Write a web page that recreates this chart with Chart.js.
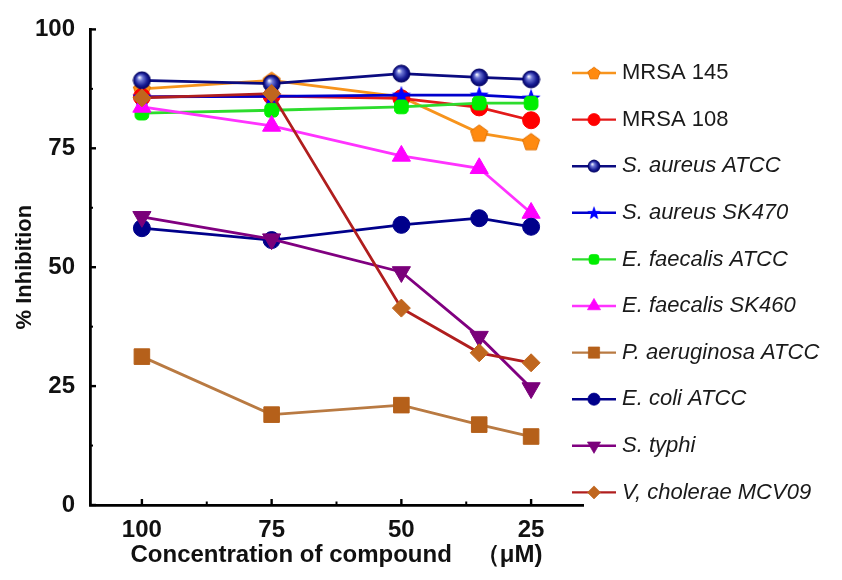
<!DOCTYPE html>
<html>
<head>
<meta charset="utf-8">
<script src="https://cdn.jsdelivr.net/npm/chart.js@4.4.1/dist/chart.umd.min.js"></script>
<style>
  html, body { margin: 0; padding: 0; background: #ffffff; }
  #wrap { width: 842px; height: 580px; position: relative; }
</style>
</head>
<body>
<div id="wrap"><canvas id="chart"></canvas></div>
<script>
// Concentrations tested (µM) and the axis ticks
const concentrations = [100, 75, 50, 35, 25];
const xTickValues = [100, 75, 50, 25];
const xMinorTicks = [87.5, 62.5, 37.5];
const yTickValues = [0, 25, 50, 75, 100];
const yMinorTicks = [12.5, 37.5, 62.5, 87.5];

// Strain names, in legend order
const strains = [
  'MRSA 145', 'MRSA 108', 'S. aureus ATCC', 'S. aureus SK470', 'E. faecalis ATCC',
  'E. faecalis SK460', 'P. aeruginosa ATCC', 'E. coli ATCC', 'S. typhi', 'V, cholerae MCV09'
];
const italicNames = [false, false, true, true, true, true, true, true, true, true];

// % inhibition per strain at each concentration
const mrsa145      = [87.5, 89.3, 85.8, 78.2, 76.4];
const mrsa108      = [85.8, 86.0, 85.5, 83.6, 80.9];
const saureusAtcc  = [89.3, 88.6, 90.7, 89.9, 89.5];
const saureusSk470 = [85.8, 85.9, 86.2, 86.2, 85.6];
const efaecalisAtcc  = [82.4, 83.0, 83.7, 84.5, 84.5];
const efaecalisSk460 = [83.7, 79.7, 73.4, 70.8, 61.4];
const paeruginosa  = [31.2, 19.0, 21.0, 16.9, 14.4];
const ecoliAtcc    = [58.2, 55.7, 58.9, 60.3, 58.5];
const styphi       = [60.6, 55.9, 49.0, 35.4, 24.6];
const vcholerae    = [85.6, 86.5, 41.4, 32.0, 29.9];

const seriesValues = [mrsa145, mrsa108, saureusAtcc, saureusSk470, efaecalisAtcc,
  efaecalisSk460, paeruginosa, ecoliAtcc, styphi, vcholerae];

// ---- custom marker sprites ----
function makeCanvas(size) {
  const c = document.createElement('canvas');
  c.width = size; c.height = size;
  return c;
}
function pentagonSprite(r, fill) {
  const s = Math.ceil(r * 2 + 2), c = makeCanvas(s), g = c.getContext('2d');
  const cx = s / 2, cy = s / 2 + 0.8;
  g.beginPath();
  for (let k = 0; k < 5; k++) {
    const a = -Math.PI / 2 + k * 2 * Math.PI / 5;
    const px = cx + r * Math.cos(a), py = cy + r * Math.sin(a);
    k ? g.lineTo(px, py) : g.moveTo(px, py);
  }
  g.closePath();
  g.fillStyle = fill; g.fill();
  g.lineWidth = 1; g.strokeStyle = '#e07000'; g.stroke();
  return c;
}
function starSprite(r, fill) {
  const s = Math.ceil(r * 2 + 2), c = makeCanvas(s), g = c.getContext('2d');
  const cx = s / 2, cy = s / 2 + 0.8, ri = r * 0.42;
  g.beginPath();
  for (let k = 0; k < 10; k++) {
    const a = -Math.PI / 2 + k * Math.PI / 5, rr = k % 2 ? ri : r;
    const px = cx + rr * Math.cos(a), py = cy + rr * Math.sin(a);
    k ? g.lineTo(px, py) : g.moveTo(px, py);
  }
  g.closePath();
  g.fillStyle = fill; g.fill();
  return c;
}
function ballSprite(r) {
  const s = Math.ceil(r * 2 + 2), c = makeCanvas(s), g = c.getContext('2d');
  const cx = s / 2, cy = s / 2;
  const grad = g.createRadialGradient(cx - r * 0.3, cy - r * 0.35, r * 0.05, cx, cy, r);
  grad.addColorStop(0, '#f2f4ff');
  grad.addColorStop(0.28, '#6f78d6');
  grad.addColorStop(0.7, '#1a1f96');
  grad.addColorStop(1, '#000066');
  g.beginPath(); g.arc(cx, cy, r, 0, Math.PI * 2);
  g.fillStyle = grad; g.fill();
  g.lineWidth = 1; g.strokeStyle = '#000060'; g.stroke();
  return c;
}

const markerStyles = [
  { lineColor: '#f7941d', pointColor: '#ff8000', style: pentagonSprite(9, '#ff8a10'), radius: 9, rotation: 0 },
  { lineColor: '#e31a1a', pointColor: '#ff0000', style: 'circle', radius: 8.5, rotation: 0 },
  { lineColor: '#0b0b80', pointColor: '#000080', style: ballSprite(8.5), radius: 8.5, rotation: 0 },
  { lineColor: '#0000cc', pointColor: '#0000ff', style: starSprite(10, '#0000ff'), radius: 10, rotation: 0 },
  { lineColor: '#2ddc2d', pointColor: '#00ee00', style: 'rectRounded', radius: 8, rotation: 0 },
  { lineColor: '#ff33ff', pointColor: '#ff00ff', style: 'triangle', radius: 10.5, rotation: 0 },
  { lineColor: '#b97a42', pointColor: '#b5601a', style: 'rect', radius: 11, rotation: 0 },
  { lineColor: '#00008b', pointColor: '#00008b', style: 'circle', radius: 8.5, rotation: 0 },
  { lineColor: '#800080', pointColor: '#7a007a', style: 'triangle', radius: 10.5, rotation: 180 },
  { lineColor: '#b01e1e', pointColor: '#c0661e', style: 'rectRot', radius: 9, rotation: 0 }
];

const datasets = strains.map((name, i) => ({
  label: name,
  data: concentrations.map((c, j) => ({ x: c, y: seriesValues[i][j] })),
  borderColor: markerStyles[i].lineColor,
  borderWidth: 2.8,
  backgroundColor: markerStyles[i].pointColor,
  pointBackgroundColor: markerStyles[i].pointColor,
  pointBorderColor: markerStyles[i].pointColor,
  pointBorderWidth: 1,
  pointStyle: markerStyles[i].style,
  pointRadius: markerStyles[i].radius,
  pointRotation: markerStyles[i].rotation,
  tension: 0,
  order: -i
}));

// inward major/minor tick marks along both axes
const tickMarks = {
  id: 'tickMarks',
  afterDraw(chart) {
    const { ctx, scales: { x, y } } = chart;
    const yBase = y.getPixelForValue(0);
    const xLeft = chart.chartArea.left;
    ctx.save();
    ctx.strokeStyle = '#000';
    ctx.lineWidth = 2.4;
    yTickValues.forEach(v => {
      const py = y.getPixelForValue(v);
      ctx.beginPath(); ctx.moveTo(xLeft, py); ctx.lineTo(xLeft + 6, py); ctx.stroke();
    });
    xTickValues.forEach(v => {
      const px = x.getPixelForValue(v);
      ctx.beginPath(); ctx.moveTo(px, yBase); ctx.lineTo(px, yBase - 6); ctx.stroke();
    });
    ctx.lineWidth = 2;
    yMinorTicks.forEach(v => {
      const py = y.getPixelForValue(v);
      ctx.beginPath(); ctx.moveTo(xLeft, py); ctx.lineTo(xLeft + 3, py); ctx.stroke();
    });
    xMinorTicks.forEach(v => {
      const px = x.getPixelForValue(v);
      ctx.beginPath(); ctx.moveTo(px, yBase); ctx.lineTo(px, yBase - 3.5); ctx.stroke();
    });
    ctx.restore();
  }
};

// legend on the right: line sample with marker, then the strain name
const sideLegend = {
  id: 'sideLegend',
  afterDraw(chart) {
    const ctx = chart.ctx;
    const lineX0 = 572, lineX1 = 616, markX = 594, textX = 622;
    const top = 73, step = 46.6, scaleK = 0.72;
    ctx.save();
    chart.data.datasets.forEach((ds, i) => {
      const yy = top + i * step;
      ctx.strokeStyle = ds.borderColor;
      ctx.lineWidth = 2.4;
      ctx.beginPath(); ctx.moveTo(lineX0, yy); ctx.lineTo(lineX1, yy); ctx.stroke();
      ctx.save();
      ctx.translate(markX, yy);
      ctx.scale(scaleK, scaleK);
      ctx.fillStyle = ds.pointBackgroundColor;
      ctx.strokeStyle = ds.pointBorderColor;
      ctx.lineWidth = 1;
      Chart.helpers.drawPoint(ctx, {
        pointStyle: ds.pointStyle, rotation: ds.pointRotation,
        radius: ds.pointRadius, borderWidth: 1
      }, 0, 0);
      ctx.restore();
      ctx.fillStyle = '#1a1a1a';
      ctx.font = (italicNames[i] ? 'italic ' : '') + '22px "Liberation Sans", Arial, sans-serif';
      ctx.textAlign = 'left';
      ctx.textBaseline = 'middle';
      ctx.fillText(ds.label, textX, yy);
    });
    ctx.restore();
  }
};

const noGrid = { display: true, drawOnChartArea: false, drawTicks: false, color: 'rgba(0,0,0,0)' };

new Chart(document.getElementById('chart'), {
  type: 'line',
  data: { datasets },
  plugins: [tickMarks, sideLegend],
  options: {
    responsive: true,
    maintainAspectRatio: false,
    animation: false,
    events: [],
    layout: { padding: { top: 29, right: 259, left: 0, bottom: 0 } },
    plugins: { legend: { display: false }, tooltip: { enabled: false } },
    scales: {
      x: {
        type: 'linear',
        reverse: true,
        min: 15,
        max: 110,
        afterBuildTicks(scale) { scale.ticks = xTickValues.map(v => ({ value: v })); },
        afterFit(scale) { scale.height = 75; },
        grid: noGrid,
        border: { display: true, color: '#000', width: 2.8 },
        ticks: {
          color: '#111',
          padding: 11,
          font: { family: '"Liberation Sans", Arial, sans-serif', size: 24, weight: 'bold' }
        },
        title: {
          display: true,
          text: 'Concentration of compound\u3000（μM)',
          color: '#111',
          padding: { top: 0, bottom: 10 },
          font: { family: '"Liberation Sans", Arial, sans-serif', size: 24, weight: 'bold' }
        }
      },
      y: {
        min: 0,
        max: 100,
        afterBuildTicks(scale) { scale.ticks = yTickValues.map(v => ({ value: v })); },
        afterFit(scale) { scale.width = 90; },
        grid: noGrid,
        border: { display: true, color: '#000', width: 2.8 },
        ticks: {
          color: '#111',
          padding: 15,
          font: { family: '"Liberation Sans", Arial, sans-serif', size: 24, weight: 'bold' }
        },
        title: {
          display: true,
          text: '% Inhibition',
          color: '#111',
          padding: { top: 12, bottom: 0 },
          font: { family: '"Liberation Sans", Arial, sans-serif', size: 22, weight: 'bold' }
        }
      }
    }
  }
});
</script>
</body>
</html>
